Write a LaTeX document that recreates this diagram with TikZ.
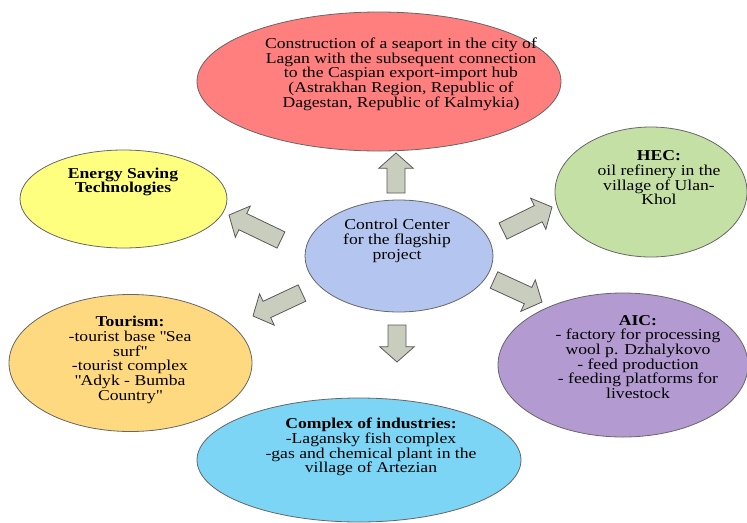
\documentclass[tikz,border=0pt]{standalone}
\usepackage{fontspec}
\setmainfont[FakeStretch=1.17]{Liberation Serif}
\usetikzlibrary{shapes.geometric,calc}
\definecolor{portred}{HTML}{FF7F7F}
\definecolor{energyyellow}{HTML}{FFFF7F}
\definecolor{hecgreen}{HTML}{C5E0A5}
\definecolor{tourorange}{HTML}{FFD97F}
\definecolor{aicpurple}{HTML}{B39AD1}
\definecolor{industryblue}{HTML}{7DD5F5}
\definecolor{centerblue}{HTML}{B4C6EF}
\definecolor{arrowgray}{HTML}{C9CDBD}
\tikzstyle{bubble}=[ellipse,draw=black!60,line width=0.6pt,inner sep=0pt,outer sep=0pt]
\tikzstyle{blurb}=[align=center,inner sep=0pt,font=\fontsize{11.3}{11}\selectfont]
\tikzstyle{fatarrow}=[draw=black!65,fill=arrowgray,line width=0.6pt,line join=miter]
\newcommand{\shaftw}{6.75pt}
\newcommand{\headw}{13pt}
\newcommand{\headl}{11.5pt}
\newcommand{\dq}{\textquotedbl}
% block arrow from #1 to #2
\newcommand{\bigarrow}[2]{%
  \draw[fatarrow] let \p1=(#1), \p2=(#2),
      \n1={atan2(\y2-\y1,\x2-\x1)}, \n2={veclen(\x2-\x1,\y2-\y1)} in
    ($(\p1)+(\n1+90:\shaftw)$)
    -- ($(\p1)+(\n1:{\n2*1pt-\headl})+(\n1+90:\shaftw)$)
    -- ($(\p1)+(\n1:{\n2*1pt-\headl})+(\n1+90:\headw)$)
    -- (\p2)
    -- ($(\p1)+(\n1:{\n2*1pt-\headl})+(\n1-90:\headw)$)
    -- ($(\p1)+(\n1:{\n2*1pt-\headl})+(\n1-90:\shaftw)$)
    -- ($(\p1)+(\n1-90:\shaftw)$) -- cycle;}

\begin{document}
\begin{tikzpicture}[x=0.75pt,y=-0.75pt]
\useasboundingbox (0,0) rectangle (747,522);

% the bubbles
\node[bubble,fill=portred,minimum width=273pt,minimum height=104.25pt] (port) at (379,81.5) {};
\node[bubble,fill=energyyellow,minimum width=155.25pt,minimum height=73.5pt] (energy) at (123.5,199) {};
\node[bubble,fill=hecgreen,minimum width=144pt,minimum height=97.5pt] (hec) at (651,192) {};
\node[bubble,fill=tourorange,minimum width=182.25pt,minimum height=102.75pt] (tourism) at (130.5,363) {};
\node[bubble,fill=aicpurple,minimum width=187.5pt,minimum height=108pt] (aic) at (623,365) {};
\node[bubble,fill=industryblue,minimum width=243pt,minimum height=93pt] (industry) at (359,460) {};
\node[bubble,fill=centerblue,minimum width=141pt,minimum height=84pt] (center) at (399,256) {};

% the texts
\node[blurb] (porttext) at (401,74) {Construction of a seaport in the city of\\
  Lagan with the subsequent connection\\ to the Caspian export-import hub\\
  (Astrakhan Region, Republic of\\ Dagestan, Republic of Kalmykia)};
\node[blurb] (energytext) at (123,182) {\textbf{Energy Saving}\\ \textbf{Technologies}};
\node[blurb] (hectext) at (659,178) {\textbf{HEC:}\\ oil refinery in the\\ village of Ulan-\\ Khol};
\node[blurb] (tourismtext) at (130,360) {\textbf{Tourism:}\\ -tourist base \dq Sea\\ surf\dq\\
  -tourist complex\\ \dq Adyk - Bumba\\ Country\dq};
\node[blurb] (aictext) at (638,357) {\textbf{AIC:}\\ - factory for processing\\ wool p. Dzhalykovo\\
  - feed production\\ - feeding platforms for\\ livestock};
\node[blurb] (industrytext) at (371,447) {\textbf{Complex of industries:}\\ -Lagansky fish complex\\
  -gas and chemical plant in the\\ village of Artezian};
\node[blurb] (centertext) at (397,241) {Control Center\\ for the flagship\\ project};

% arrow ends
\coordinate (portfoot) at (396,193);  \coordinate (porttip) at (396,153);
\coordinate (energyfoot) at (281,240); \coordinate (energytip) at (229,215);
\coordinate (hecfoot) at (503,231);   \coordinate (hectip) at (552,207);
\coordinate (aicfoot) at (494,280);   \coordinate (aictip) at (542,302);
\coordinate (tourismfoot) at (302,293); \coordinate (tourismtip) at (253,316);
\coordinate (industryfoot) at (397,325); \coordinate (industrytip) at (397,362);

\bigarrow{portfoot}{porttip}
\bigarrow{energyfoot}{energytip}
\bigarrow{hecfoot}{hectip}
\bigarrow{aicfoot}{aictip}
\bigarrow{tourismfoot}{tourismtip}
\bigarrow{industryfoot}{industrytip}
\end{tikzpicture}
\end{document}
